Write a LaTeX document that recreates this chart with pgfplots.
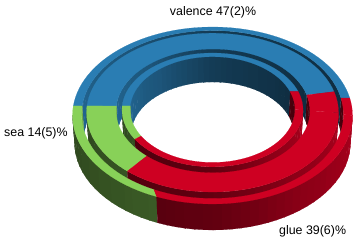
\documentclass[border=0pt]{standalone}
\usepackage{fontspec}
\setmainfont{Liberation Sans}
\usepackage{pgfplots}
\pgfplotsset{compat=1.18}
\definecolor{blueT}{HTML}{2A7DB3}
\definecolor{redT}{HTML}{CE0022}
\definecolor{greenT}{HTML}{88D158}
% ring edges: centre x, centre y, radius x, radius y (picture pixels)
\def\Ea{{212.5}{115.5}{140}{88.5}}
\def\Eb{{212.5}{114.5}{131}{84}}
\def\Ec{{212.5}{112.6}{126}{79.4}}
\def\Ed{{213}{110.9}{97}{61.9}}
\def\Ee{{212.5}{109.9}{90.5}{56.9}}
\def\Ef{{212.5}{109.6}{82.5}{52.9}}
\gdef\coords{}
\newcommand\arcpts[6]{%
  \pgfmathtruncatemacro\nn{max(1,ceil(abs((#6)-(#5))/3))}%
  \foreach \j in {0,...,\nn}{%
    \pgfmathsetmacro\tt{(#5)+((#6)-(#5))*\j/\nn}%
    \pgfmathsetmacro\X{#1+#3*cos(\tt)}%
    \pgfmathsetmacro\Y{#2-#4*sin(\tt)}%
    \xdef\coords{\coords(\X,\Y)}%
  }}
\newcommand\arcfrom[3]{\expandafter\arcpts#1{#2}{#3}}
\newcommand\emit[1]{%
  \edef\temp{\noexpand\addplot[fill=#1,draw=#1,line width=.15pt,no markers,forget plot] coordinates {\coords} -- cycle;}\temp}
\newcommand\slice[7]{%
  \gdef\coords{}\arcfrom{#1}{#2}{#3}\arcfrom{#4}{#6}{#5}\emit{#7}}
\newcommand\wallX[9]{%
  \pgfmathtruncatemacro\kk{max(1,ceil(abs((#7)-(#6))/4))}%
  \foreach \i in {1,...,\kk}{%
    \pgfmathsetmacro\a{(#6)+((#7)-(#6))*(\i-1)/\kk}%
    \pgfmathsetmacro\b{(#6)+((#7)-(#6))*\i/\kk}%
    \pgfmathsetmacro\m{(\a+\b)/2+#8}%
    \pgfmathsetmacro\f{\m<250 ? .34+(\m-180)/70*.10 : (\m<270 ? .44+(\m-250)/20*.04 : (\m<310 ? .48+(\m-270)/40*.2 : .68+(\m-310)/50*.15))}%
    \pgfmathtruncatemacro\p{100*\f}%
    \pgfmathsetmacro\b{\i<\kk ? \b+.6 : \b}%
    \gdef\coords{}%
    \arcpts{#1}{#2}{#3}{#4}{\a}{\b}%
    \arcpts{#1}{#2+#5}{.985*#3}{.985*#4}{\b}{\a}%
    \emit{#9!\p!black}%
  }}
\newcommand\wall[6]{\expandafter\wallX#1{#2}{#3}{#4}{#5}{#6}}
\begin{document}
\begin{tikzpicture}[x=1pt,y=1pt]
\useasboundingbox (0,0) rectangle (361,245);
\begin{axis}[at={(0,0)},anchor=south west,scale only axis,width=361pt,height=245pt,
  xmin=0,xmax=361,ymin=0,ymax=245,y dir=reverse,hide axis,clip=false]
% back halves, outer ring first
\wall\Eb{26.9}{0}{11.3}{180}{redT}
\wall\Eb{26.9}{11.3}{174.2}{180}{blueT}
\wall\Eb{26.9}{174.2}{180}{180}{greenT}
\slice\Ea{11.4}{173.8}\Eb{11.3}{174.2}{blueT}
\slice\Ea{0}{11.4}\Eb{0}{11.3}{redT}
\slice\Ea{173.8}{180.5}\Eb{174.2}{180.5}{greenT}
\wall\Ed{25.2}{0}{14.9}{180}{redT}
\wall\Ed{25.2}{14.9}{175.5}{180}{blueT}
\wall\Ed{25.2}{175.5}{180}{180}{greenT}
\slice\Ec{15.3}{175.2}\Ed{14.9}{175.5}{blueT}
\slice\Ec{0}{15.3}\Ed{0}{14.9}{redT}
\slice\Ec{175.2}{180.5}\Ed{175.5}{180.5}{greenT}
\wall\Ef{24.5}{0}{20.2}{180}{redT}
\wall\Ef{24.5}{20.2}{176.1}{180}{blueT}
\wall\Ef{24.5}{176.1}{180}{180}{greenT}
\slice\Ee{19.1}{176}\Ef{20.2}{176.1}{blueT}
\slice\Ee{0}{19.1}\Ef{0}{20.2}{redT}
\slice\Ee{176}{180.5}\Ef{176.1}{180.5}{greenT}
% front halves, inner ring first
\wall\Ee{24.9}{180}{211}{0}{greenT}
\wall\Ee{24.9}{211}{360}{0}{redT}
\slice\Ee{180}{211}\Ef{180}{210}{greenT}
\slice\Ee{211}{360}\Ef{210}{360}{redT}
\wall\Ec{26.6}{180}{227.5}{0}{greenT}
\wall\Ec{26.6}{227.5}{360}{0}{redT}
\slice\Ec{180}{227.5}\Ed{180}{226.9}{greenT}
\slice\Ec{227.5}{360}\Ed{226.9}{360}{redT}
\wall\Ea{27.3}{180}{246.5}{0}{greenT}
\wall\Ea{27.3}{246.5}{360}{0}{redT}
\slice\Ea{180}{246.5}\Eb{180}{243.5}{greenT}
\slice\Ea{246.5}{360}\Eb{243.5}{360}{redT}
\node[inner sep=0pt,font=\fontsize{12.4}{14}\selectfont,anchor=base] at (axis cs:213,16) {valence 47(2)\%};
\node[inner sep=0pt,font=\fontsize{12.4}{14}\selectfont,anchor=base west] at (axis cs:4,137) {sea 14(5)\%};
\node[inner sep=0pt,font=\fontsize{12.4}{14}\selectfont,anchor=base west] at (axis cs:279,235) {glue 39(6)\%};
\end{axis}
\end{tikzpicture}
\end{document}
